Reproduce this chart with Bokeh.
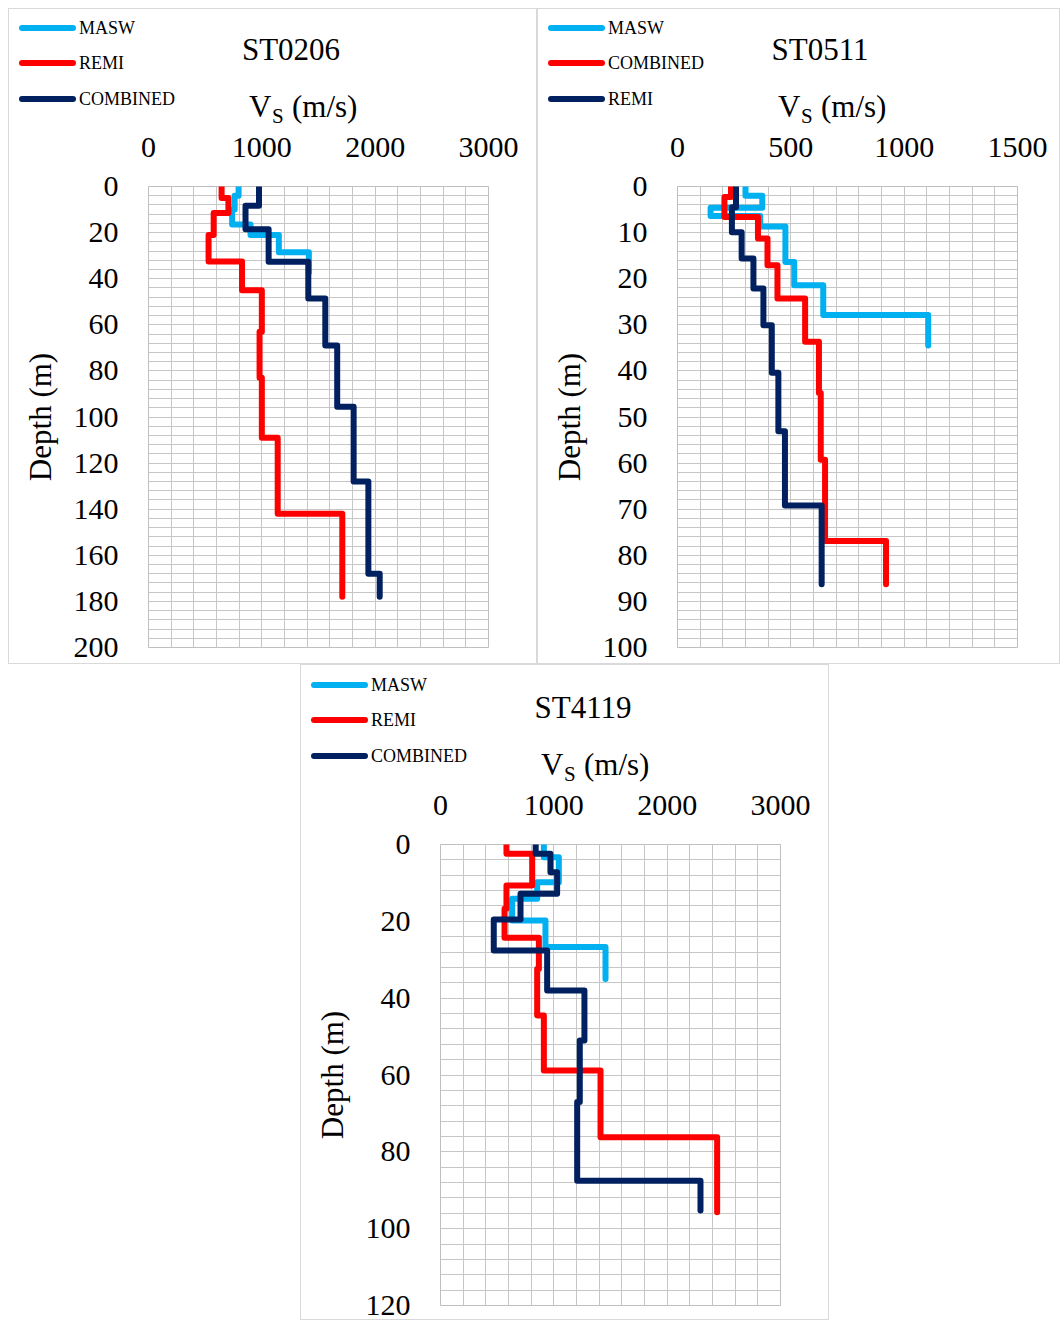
from bokeh.plotting import figure
from bokeh.models import Range1d, FixedTicker, Div, Spacer
from bokeh.layouts import row, column
from bokeh.embed import file_html
from bokeh.resources import INLINE

FONT = "Liberation Serif"
C_CYAN = "#00b0f0"
C_RED = "#ff0000"
C_NAVY = "#002060"

# ---------------- data (layer boundaries in m, Vs in m/s) ----------------
# ST0206
st0206_masw_depth = [0, 4, 10, 16.5, 21, 28.5, 37.3]
st0206_masw_vs = [795, 760, 738, 900, 1150, 1415]
st0206_remi_depth = [0, 5, 11.5, 21, 32.5, 45, 63, 83, 109, 142, 178]
st0206_remi_vs = [645, 705, 575, 530, 825, 1000, 980, 1000, 1140, 1710]
st0206_comb_depth = [0, 8.4, 18.5, 32.6, 48.6, 69, 95.5, 128, 168, 178]
st0206_comb_vs = [975, 856, 1060, 1410, 1560, 1665, 1810, 1940, 2040]

# ST0511 (legend order: MASW, COMBINED, REMI)
st0511_masw_depth = [0, 2, 4.6, 6.4, 8.7, 16.4, 21.4, 27.9, 34.5]
st0511_masw_vs = [300, 374, 146, 365, 476, 515, 643, 1106]
st0511_comb_depth = [0, 2.3, 6.6, 11.3, 17.1, 24.3, 33.7, 44.8, 59.3, 76.9, 86.3]
st0511_comb_vs = [236, 207, 355, 397, 441, 563, 624, 632, 651, 920]
st0511_remi_depth = [0, 4.5, 9.9, 15.6, 22.1, 30.1, 40.4, 53.1, 69.2, 86.3]
st0511_remi_vs = [258, 240, 283, 335, 379, 416, 445, 474, 636]

# ST4119
st4119_masw_depth = [0, 3.3, 9.8, 14.1, 19.8, 26.7, 35]
st4119_masw_vs = [912, 1044, 853, 632, 926, 1456]
st4119_remi_depth = [0, 2.4, 10.7, 16.7, 24.3, 32.4, 44.5, 58.8, 76.2, 95.7]
st4119_remi_vs = [582, 809, 582, 565, 868, 853, 912, 1412, 2441]
st4119_comb_depth = [0, 2.4, 7.2, 12.8, 19.5, 27.6, 38, 51, 67, 87.5, 95.3]
st4119_comb_vs = [840, 970, 1029, 706, 470, 941, 1270, 1229, 1206, 2294]

x_ticks_3000 = [0, 1000, 2000, 3000]
x_ticks_1500 = [0, 500, 1000, 1500]
y_ticks_200 = [0, 20, 40, 60, 80, 100, 120, 140, 160, 180, 200]
y_ticks_100 = [0, 10, 20, 30, 40, 50, 60, 70, 80, 90, 100]
y_ticks_120 = [0, 20, 40, 60, 80, 100, 120]

HEADER_H = 100


def steps(depths, vs):
    xs, ys = [], []
    for i, v in enumerate(vs):
        xs += [v, v]
        ys += [depths[i], depths[i + 1]]
    return xs, ys


def header(title, series, width, rows_y, dy):
    s = ['<div style="position:relative;width:%dpx;height:%dpx;overflow:visible;'
         'font-family:\'Liberation Serif\',serif;color:#000;">' % (width, HEADER_H)]
    for (name, color, _), y in zip(series, rows_y):
        s.append('<div style="position:absolute;left:11px;top:%.1fpx;width:57px;'
                 'height:6px;border-radius:3px;background:%s;"></div>' % (y - 3, color))
        s.append('<div style="position:absolute;left:71px;top:%.1fpx;font-size:18px;'
                 'line-height:18px;white-space:nowrap;">%s</div>' % (y - 9, name))
    s.append('<div style="position:absolute;left:183px;top:%.1fpx;width:200px;'
             'text-align:center;font-size:31px;line-height:31px;">%s</div>'
             % (25.5 + dy, title))
    s.append('<div style="position:absolute;left:241px;top:%.1fpx;font-size:31px;'
             'line-height:31px;">V</div>' % (83 + dy))
    s.append('<div style="position:absolute;left:264px;top:%.1fpx;font-size:21px;'
             'line-height:21px;">S</div>' % (98 + dy))
    s.append('<div style="position:absolute;left:284px;top:%.1fpx;font-size:31px;'
             'line-height:31px;white-space:nowrap;">(m/s)</div>' % (83 + dy))
    s.append('</div>')
    return Div(text="".join(s), width=width, height=HEADER_H, margin=0,
               styles={"overflow": "visible", "z-index": "2"})


def panel(title, series, xmax, xticks, xgrid_step, ymax, yticks, ygrid_step,
          width, height, mb_right, mb_top, mb_bottom, rows_y, dy):
    p = figure(width=width, height=height - HEADER_H, output_backend="svg",
               toolbar_location=None, x_axis_location="above",
               x_range=Range1d(0, xmax), y_range=Range1d(ymax, 0),
               min_border_left=140, min_border_right=mb_right,
               min_border_top=mb_top, min_border_bottom=mb_bottom)
    p.background_fill_color = "white"
    p.border_fill_color = None
    p.outline_line_color = "#bfbfbf"
    p.outline_line_width = 1

    p.xgrid.ticker = FixedTicker(ticks=list(range(0, xmax + 1, xgrid_step)))
    p.ygrid.ticker = FixedTicker(ticks=list(range(0, ymax + 1, ygrid_step)))
    for g in (p.xgrid, p.ygrid):
        g.grid_line_color = "#c6c6c6"
        g.grid_line_width = 1

    for ax, ticks, standoff in ((p.xaxis, xticks, 30), (p.yaxis, yticks, 30)):
        ax.ticker = FixedTicker(ticks=ticks)
        ax.axis_line_color = None
        ax.major_tick_line_color = None
        ax.minor_tick_line_color = None
        ax.major_tick_out = 0
        ax.major_tick_in = 0
        ax.major_label_standoff = standoff
        ax.major_label_text_font = FONT
        ax.major_label_text_font_size = "30px"
        ax.major_label_text_color = "black"

    p.yaxis.axis_label = "Depth (m)"
    p.yaxis.axis_label_text_font = FONT
    p.yaxis.axis_label_text_font_size = "31px"
    p.yaxis.axis_label_text_font_style = "normal"
    p.yaxis.axis_label_text_color = "black"
    p.yaxis.axis_label_standoff = 13

    for name, color, (d, v) in series:
        xs, ys = steps(d, v)
        p.line(xs, ys, line_color=color, line_width=6,
               line_cap="round", line_join="round")

    col = column(header(title, series, width, rows_y, dy), p,
                 width=width, height=height,
                 styles={"outline": "1px solid #d9d9d9", "outline-offset": "-1px",
                         "overflow": "visible"})
    return col


p1 = panel("ST0206",
           [("MASW", C_CYAN, (st0206_masw_depth, st0206_masw_vs)),
            ("REMI", C_RED, (st0206_remi_depth, st0206_remi_vs)),
            ("COMBINED", C_NAVY, (st0206_comb_depth, st0206_comb_vs))],
           3000, x_ticks_3000, 200, 200, y_ticks_200, 4,
           529, 656, 49, 78, 17, [19.5, 55, 90.5], 0)

p2 = panel("ST0511",
           [("MASW", C_CYAN, (st0511_masw_depth, st0511_masw_vs)),
            ("COMBINED", C_RED, (st0511_comb_depth, st0511_comb_vs)),
            ("REMI", C_NAVY, (st0511_remi_depth, st0511_remi_vs))],
           1500, x_ticks_1500, 100, 100, y_ticks_100, 2,
           523, 656, 43, 78, 17, [19.5, 55, 90.5], 0)

p3 = panel("ST4119",
           [("MASW", C_CYAN, (st4119_masw_depth, st4119_masw_vs)),
            ("REMI", C_RED, (st4119_remi_depth, st4119_remi_vs)),
            ("COMBINED", C_NAVY, (st4119_comb_depth, st4119_comb_vs))],
           3000, x_ticks_3000, 200, 120, y_ticks_120, 4,
           529, 656, 49, 80, 15, [21, 56, 92], 2)

layout = column(Spacer(width=1060, height=8),
                row(Spacer(width=8, height=656), p1, p2),
                row(Spacer(width=300, height=656), p3))

with open("out.html", "w") as f:
    f.write(file_html(layout, INLINE))
